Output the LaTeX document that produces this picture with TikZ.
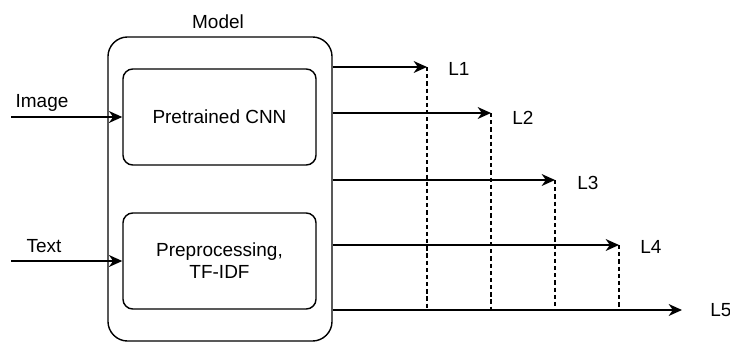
\documentclass[tikz,border=0pt]{standalone}
\usepackage{fontspec}
\setmainfont{Liberation Sans}
\usetikzlibrary{arrows.meta}

\begin{document}
\begin{tikzpicture}[
      x=0.025cm,
      y=-0.025cm,
      >={Stealth[length=9.5pt,width=8.5pt,inset=3pt]},
      every node/.style={
        font=\fontsize{13.5}{15.6}\selectfont,
        inner sep=0pt
      },
      frame/.style={
        draw,
        line width=1pt,
        rounded corners=14pt,
        minimum width=5.6cm,
        minimum height=7.6cm
      },
      block/.style={
        draw,
        line width=1pt,
        rounded corners=7pt,
        minimum width=4.825cm,
        minimum height=2.4cm,
        align=center
      },
      flow/.style={->, line width=1pt},
      guide/.style={line width=0.8pt, dash pattern=on 3pt off 2.1pt}
    ]

      \useasboundingbox (0,0) rectangle (730,343);

      % Modell
      \node [frame] (model) at (220,189) {};
      \node (modeltitle) at (218,22) {Model};

      % Bloecke
      \node [block] (cnn) at (219.5,117) {Pretrained CNN};
      \node [block] (tfidf) at (219.5,261) {Preprocessing,\\TF-IDF};

      % Eingaenge
      \coordinate (imgin) at (11,117);
      \coordinate (txtin) at (11,261);
      \draw [flow] (imgin) -- (cnn.west);
      \draw [flow] (txtin) -- (tfidf.west);
      \node (imglabel) at (42,103) {Image};
      \node (txtlabel) at (44,246.5) {Text};

      % Ausgaenge
      \foreach \i/\x/\y in {1/427/67, 2/491/113, 3/555/180, 4/619/245, 5/682/310}
      { \coordinate (out\i) at (\x,\y);
      };
      \foreach \i in {1,...,4}
      { \draw [guide] (out\i) -- (out\i |- out5);
      };
      \foreach \i in {1,...,5}
      { \draw [flow] (model.east |- out\i) -- (out\i);
      };

      % Labels
      \foreach \i/\x/\y in {1/448/69, 2/512/118, 3/577/183, 4/640/247, 5/710/310}
      { \node [anchor=west] (lab\i) at (\x,\y) {L\i};
      };
    \end{tikzpicture}
\end{document}
